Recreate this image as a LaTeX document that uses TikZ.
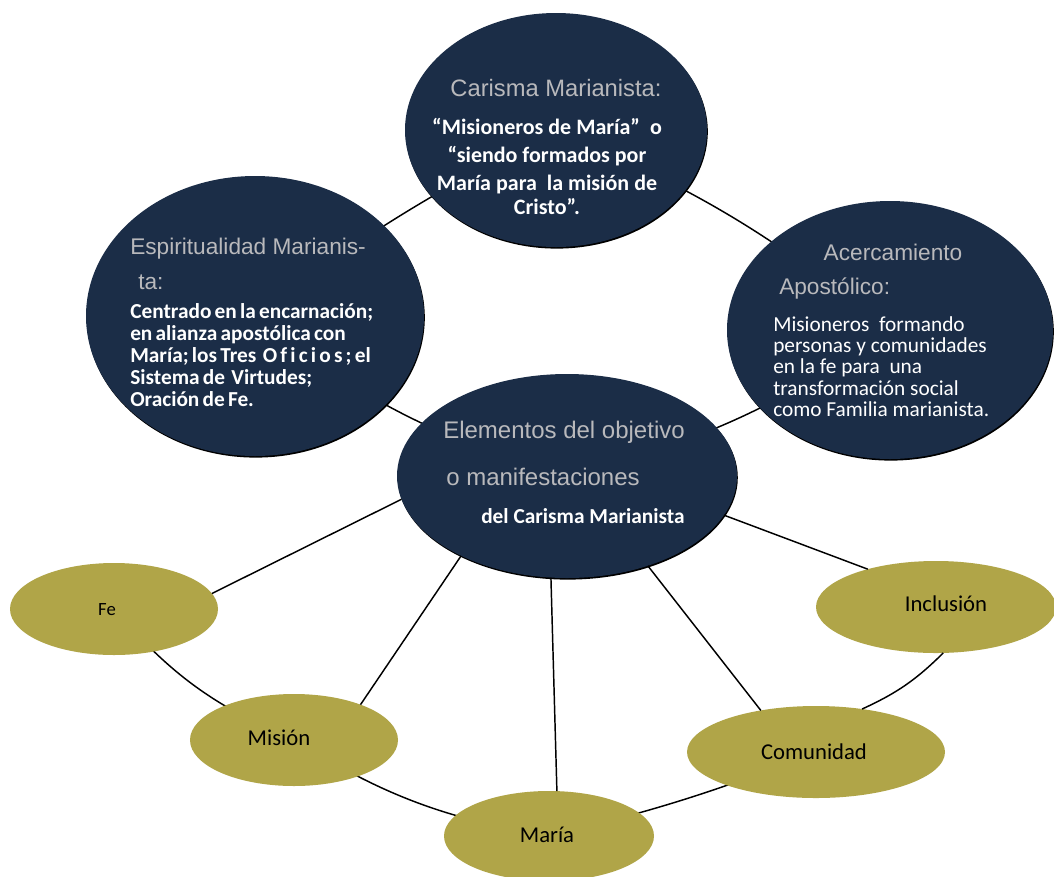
\documentclass[tikz,border=0pt]{standalone}
\usepackage{fontspec}
\setmainfont{Carlito}
\newfontfamily\ttlfont{Liberation Sans}
\usetikzlibrary{shapes.geometric,shadows}
\pgfdeclarelayer{bgfill}
\pgfdeclarelayer{background}
\pgfsetlayers{bgfill,background,main}
\definecolor{navy}{RGB}{27,45,71}
\definecolor{olivec}{RGB}{176,165,72}
\definecolor{ttlgray}{RGB}{185,185,188}
\newcommand\mytightsp{\spaceskip=0.15em plus 0.05em\relax}
\tikzset{
  sz/.style 2 args={minimum width=#1*0.75pt, minimum height=#2*0.75pt},
  darkc/.style={ellipse, fill=navy, inner sep=0pt, outer sep=0pt,
    drop shadow={shadow xshift=0.6pt, shadow yshift=-1.2pt, fill=black, opacity=1}},
  olivee/.style={ellipse, fill=olivec, inner sep=0pt, outer sep=0pt},
  ttl/.style={text=ttlgray, font=\ttlfont\fontsize{17}{20}\selectfont, inner sep=0pt, anchor=base west},
  btop/.style={text=white, font=\bfseries\fontsize{16.5}{20}\selectfont, inner sep=0pt, anchor=base},
  bleft/.style={text=white, font=\bfseries\fontsize{16}{17}\selectfont\mytightsp, inner sep=0pt, anchor=base west},
  bright/.style={text=white, font=\fontsize{16}{14}\selectfont, inner sep=0pt, anchor=base west},
  bhub/.style={text=white, font=\bfseries\fontsize{16}{18}\selectfont, inner sep=0pt, anchor=base west},
  lbl/.style={text=black, font=\fontsize{17}{20}\selectfont, inner sep=0pt, anchor=base},
  link/.style={draw=black, line width=1.1pt}
}
\begin{document}
\begin{tikzpicture}[x=0.75pt,y=-0.75pt]
\useasboundingbox (0,0) rectangle (1054,876);
\begin{pgfonlayer}{bgfill}
  \fill[white] (0,0) rectangle (1054,876);
\end{pgfonlayer}

% dark circles
\node[darkc, sz={302}{234}] (top) at (556,130) {};
\node[darkc, sz={338}{280}] (left) at (255,316) {};
\node[darkc, sz={326}{258}] (right) at (890,330) {};
\node[darkc, sz={340}{204}] (hub) at (567,476) {};

% olive ellipses
\node[olivee, sz={208}{92}] (fe) at (114,609) {};
\node[olivee, sz={208}{92}] (mision) at (294,740) {};
\node[olivee, sz={210}{90}] (maria) at (549,836) {};
\node[olivee, sz={258}{92}] (comunidad) at (816,752) {};
\node[olivee, sz={240}{92}] (inclusion) at (936,607) {};

% ring connectors behind the shapes
\begin{pgfonlayer}{background}
  \draw[link] (top.center) to[bend left=8] (right.center);
  \draw[link] (right.center) to[bend left=10] (hub.center);
  \draw[link] (hub.center) to[bend left=11] (left.center);
  \draw[link] (left.center) to[bend left=5] (top.center);
  \draw[link] (fe.center) to[bend right=13] (mision.center);
  \draw[link] (mision.center) to[bend right=11] (maria.center);
  \draw[link] (maria.center) to[bend right=4] (comunidad.center);
\end{pgfonlayer}
\draw[link] (comunidad.43) to[bend right=10] (inclusion.279.5);

% spokes
\draw[link] (hub.188.5) -- (fe.9.6);
\draw[link] (hub.217.3) -- (mision.28.7);
\draw[link] (hub.261) -- (maria.80.5);
\draw[link] (hub.312.4) -- (comunidad.143);
\draw[link] (hub.346.6) -- (inclusion.151.7);

% top circle text
\node[ttl, anchor=base, font=\ttlfont\fontsize{17.8}{20}\selectfont] (t0) at (556,96) {Carisma Marianista:};
\node[btop] (t1) at (547,134) {“Misioneros de María”\ \ o};
\node[btop] (t2) at (547,162) {“siendo formados por};
\node[btop] (t3) at (547,190) {María para\ \ la misión de};
\node[btop] (t4) at (547,214) {Cristo”.};

% left circle text
\node[ttl] (l0) at (130,254) {Espiritualidad Marianis-};
\node[ttl] (l0b) at (138,289) {ta:};
\node[bleft] (l1) at (130,318) {Centrado en la encarnación;};
\node[bleft] (l2) at (130,340) {en alianza apostólica con};
\node[bleft] (l3) at (130,362) {María; los Tres\ \ O\ f\ i\ c\ i\ o\ s\ ; el};
\node[bleft] (l4) at (130,384) {Sistema de\ \ Virtudes;};
\node[bleft] (l5) at (130,406) {Oración de Fe.};

% right circle text
\node[ttl, anchor=base] (r0) at (893,260) {Acercamiento};
\node[ttl] (r0b) at (779,294) {Apostólico:};
\node[bright] (r1) at (773,331) {Misioneros\ \ formando};
\node[bright] (r2) at (773,352) {personas y comunidades};
\node[bright] (r3) at (773,373) {en la fe para\ \ una};
\node[bright] (r4) at (773,395) {transformación social};
\node[bright] (r5) at (773,416) {como Familia marianista.};

% hub text
\node[ttl, font=\ttlfont\fontsize{18}{20}\selectfont] (h0) at (443,438) {Elementos del objetivo};
\node[ttl, font=\ttlfont\fontsize{18}{20}\selectfont] (h1) at (446,485) {o manifestaciones};
\node[bhub] (h2) at (481,523) {del Carisma Marianista};

% olive labels
\node[lbl, font=\fontsize{14}{16}\selectfont] (tfe) at (107,615) {Fe};
\node[lbl] (tmision) at (279,745) {Misión};
\node[lbl] (tmaria) at (547,842) {María};
\node[lbl] (tcomunidad) at (814,759) {Comunidad};
\node[lbl] (tinclusion) at (946,611) {Inclusión};
\end{tikzpicture}
\end{document}
